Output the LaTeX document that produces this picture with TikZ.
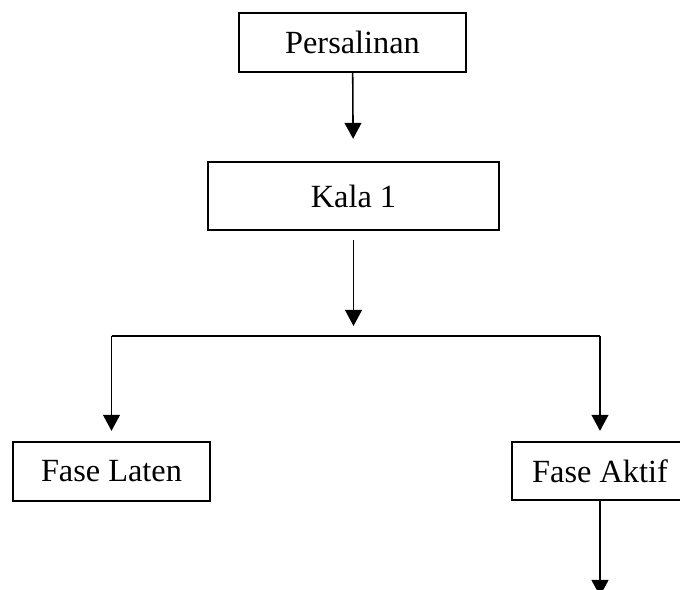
\documentclass[tikz,border=0pt]{standalone}
\usepackage{fontspec}
\setmainfont{Liberation Serif}
\usetikzlibrary{arrows.meta}

\begin{document}
\begin{tikzpicture}[x=0.025cm,y=-0.025cm]
\tikzset{kotak/.style={draw,line width=1.6pt,inner sep=0pt,font=\fontsize{23}{26}\selectfont},
panah/.style={line width=1.1pt,-{Triangle[length=0.4cm,width=0.42cm]}},
garis/.style={line width=1.1pt}}
\useasboundingbox (0,0) rectangle (680,590);
\node[kotak,minimum width=5.675cm,minimum height=1.475cm] (persalinan) at (352.5,42.5) {Persalinan};
\node[kotak,minimum width=7.275cm,minimum height=1.7cm] (kala) at (353.5,196) {Kala 1};
\node[kotak,minimum width=4.925cm,minimum height=1.475cm] (laten) at (111.5,471.5) {Fase Laten};
\node[kotak,minimum width=4.4cm,minimum height=1.45cm] (aktif) at (600,471) {Fase Aktif};
\coordinate (cabang) at (353.5,336);
\coordinate (kiri) at (111.5,336);
\coordinate (kanan) at (600,336);
\coordinate (akhir) at (600,596);
%\draw (cabang) circle (2pt);
\draw[panah,shorten >=0.55cm] (persalinan) -- (kala);
\draw[panah,shorten <=0.225cm,shorten >=0.25cm] (kala) -- (cabang);
\draw[garis] (kiri) -- (kanan);
\draw[panah,shorten >=0.25cm] (kiri) -- (laten);
\draw[panah,shorten >=0.25cm] (kanan) -- (aktif);
\draw[panah] (aktif) -- (akhir);
\end{tikzpicture}
\end{document}
